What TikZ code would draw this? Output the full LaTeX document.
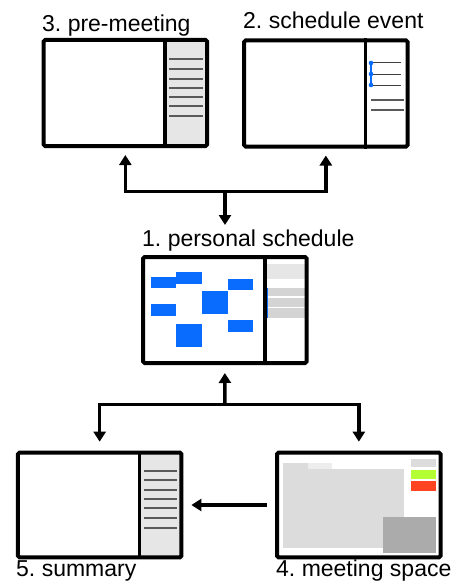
\documentclass[tikz,border=0pt]{standalone}
\usepackage{fontspec}
\setmainfont{Liberation Sans}
\usetikzlibrary{arrows.meta}
\definecolor{evblue}{HTML}{0A6CFF}
\definecolor{panel}{HTML}{E6E6E6}
\definecolor{band}{HTML}{D4D4D4}
\definecolor{rowline}{HTML}{5A5A5A}
\definecolor{area}{HTML}{DCDCDC}
\definecolor{areadark}{HTML}{ABABAB}
\definecolor{okgreen}{HTML}{B3FF33}
\definecolor{alertred}{HTML}{FF4422}
\frenchspacing
\begin{document}
\begin{tikzpicture}[x=1pt,y=-1pt,
  screen/.style={draw=black,line width=4pt,rounded corners=1.5pt,inner sep=0pt,minimum width=163.5pt},
  divider/.style={draw=black,line width=3.5pt},
  row/.style={draw=rowline,line width=2pt},
  thinrow/.style={draw=black!75,line width=1pt},
  lbl/.style={inner sep=0pt,anchor=base west,font=\fontsize{23}{27}\selectfont},
  arr/.style={line width=3.5pt,-{Triangle[width=12pt,length=10pt]}}]
\useasboundingbox (0,0) rectangle (453,586);

% ---- labels
\node[lbl] (l3) at (42,31.7) {3. pre-meeting};
\node[lbl] (l2) at (243,28.3) {2. schedule event};
\node[lbl] (l1) at (142,246.5) {1. personal schedule};
\node[lbl] (l5) at (16,576.7) {5. summary};
\node[lbl] (l4) at (276,576.7) {4. meeting space};

% ---- box 3 content
\fill[panel] (165,40) rectangle (207,146);
\foreach \y in {59,69,79,88,97,106,116} \draw[row] (169,\y) -- (203,\y);

% ---- box 2 content
\foreach \y in {63,74,85} \draw[thinrow] (373,\y) -- (401,\y);
\draw[evblue,line width=1.5pt] (371,63) -- (371,85);
\foreach \y in {63,74,85} \fill[evblue] (371,\y) circle (2.3pt);
\draw[row] (371,100) -- (404,100);
\draw[row] (371,110) -- (404,110);

% ---- box 1 content
\fill[evblue] (150.7,276.7) rectangle (176,288.3);
\fill[evblue] (176,272.3) rectangle (201.7,284);
\fill[evblue] (227.7,278.7) rectangle (253.3,290.3);
\fill[evblue] (202.3,291) rectangle (227.7,314.3);
\fill[evblue] (150.7,303.7) rectangle (176,315.7);
\fill[evblue] (176,324) rectangle (201.7,347.3);
\fill[evblue] (227.7,320) rectangle (253.3,332);
\fill[panel] (266,264) rectangle (306,279);
\fill[band] (266,287.7) rectangle (306,296);
\fill[band] (266,297.7) rectangle (306,306.7);
\fill[band] (266,308.3) rectangle (306,318.3);
\fill[evblue] (266,287.7) rectangle (268,318.3);

% ---- box 5 content
\fill[panel] (139.3,452.7) rectangle (181.3,557.3);
\foreach \y in {470.7,480.3,490,499.3,508.3,517.7,527.7} \draw[row] (144,\y) -- (177.3,\y);

% ---- box 4 content
\fill[area] (282.7,469.3) rectangle (404,548.3);
\fill[area] (282.7,463.3) rectangle (307.7,469.3);
\fill[black!7] (307.7,463.3) rectangle (332.3,469.3);
\fill[area] (411,459.3) rectangle (435.7,467.3);
\fill[okgreen] (411,470) rectangle (435.7,479.3);
\fill[alertred] (411,481) rectangle (435.7,490.7);
\fill[areadark] (383.3,517.3) rectangle (435.7,553.3);

% ---- screens
\node[screen,minimum height=106pt] (b3) at (125.35,93) {};
\node[screen,minimum height=106pt] (b2) at (325.85,93.5) {};
\node[screen,minimum height=106pt] (b1) at (224.85,310) {};
\node[screen,minimum height=104.6pt] (b5) at (99.65,505) {};
\node[screen,minimum height=104.6pt] (b4) at (358.85,505) {};
\coordinate (d3) at (165,0);
\coordinate (d2) at (365.7,0);
\coordinate (d1) at (265,0);
\coordinate (d5) at (139.3,0);
\draw[divider] (b3.north -| d3) -- (b3.south -| d3);
\draw[divider] (b2.north -| d2) -- (b2.south -| d2);
\draw[divider] (b1.north -| d1) -- (b1.south -| d1);
\draw[divider] (b5.north -| d5) -- (b5.south -| d5);

% ---- connectors
\coordinate (jt) at (225,191.7);
\coordinate (t1) at (225,225);
\draw[arr] (jt) -| ([yshift=-7pt]b3.south);
\draw[arr] (jt) -| ([yshift=-7pt]b2.south);
\draw[arr] (jt) -- (t1);
\coordinate (jb) at (225,404.3);
\draw[arr] (jb) -- ([yshift=-8pt]b1.south);
\draw[arr] (jb) -| ([yshift=9pt]b5.north);
\draw[arr] (jb) -| ([yshift=9pt]b4.north);
\draw[arr] ([xshift=-8pt]b4.west) -- ([xshift=8pt]b5.east);
\end{tikzpicture}
\end{document}
